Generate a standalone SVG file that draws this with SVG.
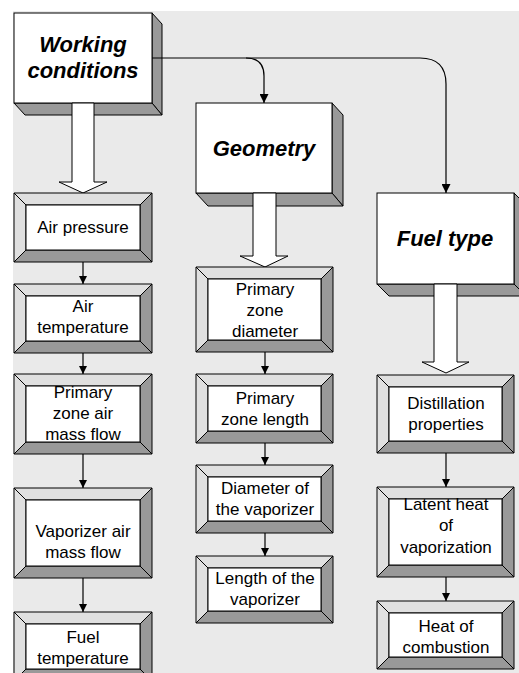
<svg xmlns="http://www.w3.org/2000/svg" width="519" height="673" viewBox="0 0 519 673">
<defs>
<style>
.bg{fill:#EAEAEA}
.front{fill:#FFFFFF;stroke:#000;stroke-width:1}
.side{fill:#999999;stroke:#000;stroke-width:1;stroke-linejoin:round}
.light{fill:#E0E0E0;stroke:#000;stroke-width:1}
.dark{fill:#999999;stroke:#000;stroke-width:1}
.inner{fill:#FFFFFF;stroke:#000;stroke-width:1}
.big{font-family:"Liberation Sans",Arial,sans-serif;font-size:22px;font-weight:bold;font-style:italic;text-anchor:middle;fill:#000}
.lbl{font-family:"Liberation Sans",Arial,sans-serif;font-size:17px;text-anchor:middle;fill:#000}
.hollow{fill:#FFFFFF;stroke:#000;stroke-width:1;stroke-linejoin:miter}
.conn{fill:none;stroke:#000;stroke-width:1.2}
</style>
<marker id="ah" viewBox="0 0 10 10" refX="10" refY="5" markerWidth="8" markerHeight="8" markerUnits="userSpaceOnUse" orient="auto">
<path d="M0,0 L10,5 L0,10 z" fill="#000"/>
</marker>
<marker id="ah2" viewBox="0 0 10 10" refX="10" refY="5" markerWidth="9" markerHeight="9" markerUnits="userSpaceOnUse" orient="auto">
<path d="M0,0 L10,5 L0,10 z" fill="#000"/>
</marker>
</defs>
<rect class="bg" x="13" y="11" width="506" height="662"/>

<!-- Working conditions -->
<g id="working-conditions">
<polygon class="side" points="152,13 162,24 162,115 152,103"/>
<polygon class="side" points="14,103 25,115 162,115 152,103"/>
<rect class="front" x="14" y="13" width="138" height="90"/>
<text class="big" x="83" y="52">Working</text>
<text class="big" x="83" y="78">conditions</text>
<polygon class="hollow" points="72,103 94,103 94,182 107,182 83,193 59,182 72,182"/>
</g>

<!-- Geometry -->
<g id="geometry">
<polygon class="side" points="332,103 343,115 343,206 332,193"/>
<polygon class="side" points="196,193 208,206 343,206 332,193"/>
<rect class="front" x="196" y="103" width="136" height="90"/>
<text class="big" x="264" y="156">Geometry</text>
<polygon class="hollow" points="253,193 276,193 276,256 288,256 265,267 240,256 253,256"/>
</g>

<!-- Fuel type -->
<g id="fuel-type">
<polygon class="side" points="514,193 526,205 526,296 514,284"/>
<polygon class="side" points="377,284 389,296 526,296 514,284"/>
<rect class="front" x="377" y="193" width="137" height="91"/>
<text class="big" x="445" y="246">Fuel type</text>
<polygon class="hollow" points="434,284 457,284 457,362 469,362 446,373 422,362 434,362"/>
</g>

<!-- Left column -->
<g id="air-pressure">
<polygon class="light" points="14,193 152,193 140,205 26,205"/>
<polygon class="light" points="14,193 26,205 26,250 14,262"/>
<polygon class="dark" points="152,193 152,262 140,250 140,205"/>
<polygon class="dark" points="14,262 26,250 140,250 152,262"/>
<rect class="inner" x="26" y="205" width="114" height="45"/>
<text class="lbl" x="83" y="233">Air pressure</text>
</g>
<g id="air-temperature">
<polygon class="light" points="14,284 152,284 140,296 26,296"/>
<polygon class="light" points="14,284 26,296 26,341 14,353"/>
<polygon class="dark" points="152,284 152,353 140,341 140,296"/>
<polygon class="dark" points="14,353 26,341 140,341 152,353"/>
<rect class="inner" x="26" y="296" width="114" height="45"/>
<text class="lbl" x="83" y="312">Air</text>
<text class="lbl" x="83" y="333">temperature</text>
</g>
<g id="primary-zone-air-mass-flow">
<polygon class="light" points="14,374 152,374 140,386 26,386"/>
<polygon class="light" points="14,374 26,386 26,442 14,454"/>
<polygon class="dark" points="152,374 152,454 140,442 140,386"/>
<polygon class="dark" points="14,454 26,442 140,442 152,454"/>
<rect class="inner" x="26" y="386" width="114" height="56"/>
<text class="lbl" x="83" y="398">Primary</text>
<text class="lbl" x="83" y="419">zone air</text>
<text class="lbl" x="83" y="440">mass flow</text>
</g>
<g id="vaporizer-air-mass-flow">
<polygon class="light" points="14,488 152,488 140,500 26,500"/>
<polygon class="light" points="14,488 26,500 26,566 14,578"/>
<polygon class="dark" points="152,488 152,578 140,566 140,500"/>
<polygon class="dark" points="14,578 26,566 140,566 152,578"/>
<rect class="inner" x="26" y="500" width="114" height="66"/>
<text class="lbl" x="83" y="537">Vaporizer air</text>
<text class="lbl" x="83" y="558">mass flow</text>
</g>
<g id="fuel-temperature">
<polygon class="light" points="14,612 152,612 140,624 26,624"/>
<polygon class="light" points="14,612 26,624 26,669 14,681"/>
<polygon class="dark" points="152,612 152,681 140,669 140,624"/>
<polygon class="dark" points="14,681 26,669 140,669 152,681"/>
<rect class="inner" x="26" y="624" width="114" height="45"/>
<text class="lbl" x="83" y="643">Fuel</text>
<text class="lbl" x="83" y="664">temperature</text>
</g>

<!-- Middle column -->
<g id="primary-zone-diameter">
<polygon class="light" points="196,267 333,267 321,279 208,279"/>
<polygon class="light" points="196,267 208,279 208,340 196,352"/>
<polygon class="dark" points="333,267 333,352 321,340 321,279"/>
<polygon class="dark" points="196,352 208,340 321,340 333,352"/>
<rect class="inner" x="208" y="279" width="113" height="61"/>
<text class="lbl" x="265" y="295">Primary</text>
<text class="lbl" x="265" y="316">zone</text>
<text class="lbl" x="265" y="337">diameter</text>
</g>
<g id="primary-zone-length">
<polygon class="light" points="196,374 333,374 321,386 208,386"/>
<polygon class="light" points="196,374 208,386 208,431 196,443"/>
<polygon class="dark" points="333,374 333,443 321,431 321,386"/>
<polygon class="dark" points="196,443 208,431 321,431 333,443"/>
<rect class="inner" x="208" y="386" width="113" height="45"/>
<text class="lbl" x="265" y="404">Primary</text>
<text class="lbl" x="265" y="425">zone length</text>
</g>
<g id="diameter-of-the-vaporizer">
<polygon class="light" points="196,465 333,465 321,477 208,477"/>
<polygon class="light" points="196,465 208,477 208,521 196,533"/>
<polygon class="dark" points="333,465 333,533 321,521 321,477"/>
<polygon class="dark" points="196,533 208,521 321,521 333,533"/>
<rect class="inner" x="208" y="477" width="113" height="44"/>
<text class="lbl" x="265" y="494">Diameter of</text>
<text class="lbl" x="265" y="515">the vaporizer</text>
</g>
<g id="length-of-the-vaporizer">
<polygon class="light" points="196,556 333,556 321,568 208,568"/>
<polygon class="light" points="196,556 208,568 208,611 196,623"/>
<polygon class="dark" points="333,556 333,623 321,611 321,568"/>
<polygon class="dark" points="196,623 208,611 321,611 333,623"/>
<rect class="inner" x="208" y="568" width="113" height="43"/>
<text class="lbl" x="265" y="584">Length of the</text>
<text class="lbl" x="265" y="605">vaporizer</text>
</g>

<!-- Right column -->
<g id="distillation-properties">
<polygon class="light" points="377,375 514,375 502,387 389,387"/>
<polygon class="light" points="377,375 389,387 389,441 377,453"/>
<polygon class="dark" points="514,375 514,453 502,441 502,387"/>
<polygon class="dark" points="377,453 389,441 502,441 514,453"/>
<rect class="inner" x="389" y="387" width="113" height="54"/>
<text class="lbl" x="446" y="409">Distillation</text>
<text class="lbl" x="446" y="430">properties</text>
</g>
<g id="latent-heat-of-vaporization">
<polygon class="light" points="377,487 514,487 502,499 389,499"/>
<polygon class="light" points="377,487 389,499 389,565 377,577"/>
<polygon class="dark" points="514,487 514,577 502,565 502,499"/>
<polygon class="dark" points="377,577 389,565 502,565 514,577"/>
<rect class="inner" x="389" y="499" width="113" height="66"/>
<text class="lbl" x="446" y="510">Latent heat</text>
<text class="lbl" x="446" y="531">of</text>
<text class="lbl" x="446" y="553">vaporization</text>
</g>
<g id="heat-of-combustion">
<polygon class="light" points="377,601 514,601 502,613 389,613"/>
<polygon class="light" points="377,601 389,613 389,657 377,669"/>
<polygon class="dark" points="514,601 514,669 502,657 502,613"/>
<polygon class="dark" points="377,669 389,657 502,657 514,669"/>
<rect class="inner" x="389" y="613" width="113" height="44"/>
<text class="lbl" x="446" y="632">Heat of</text>
<text class="lbl" x="446" y="653">combustion</text>
</g>

<!-- connectors -->
<g id="connectors">
<path class="conn" d="M152,58 H246 Q264,58 264,76 V103" marker-end="url(#ah2)"/>
<path class="conn" d="M246,58 H420 Q446,58 446,84 V193" marker-end="url(#ah2)"/>
<line class="conn" x1="83" y1="262" x2="83" y2="284" marker-end="url(#ah)"/>
<line class="conn" x1="83" y1="353" x2="83" y2="374" marker-end="url(#ah)"/>
<line class="conn" x1="83" y1="454" x2="83" y2="488" marker-end="url(#ah)"/>
<line class="conn" x1="83" y1="578" x2="83" y2="612" marker-end="url(#ah)"/>
<line class="conn" x1="265" y1="352" x2="265" y2="374" marker-end="url(#ah)"/>
<line class="conn" x1="265" y1="443" x2="265" y2="465" marker-end="url(#ah)"/>
<line class="conn" x1="265" y1="533" x2="265" y2="556" marker-end="url(#ah)"/>
<line class="conn" x1="446" y1="453" x2="446" y2="487" marker-end="url(#ah)"/>
<line class="conn" x1="446" y1="577" x2="446" y2="601" marker-end="url(#ah)"/>
</g>
</svg>
